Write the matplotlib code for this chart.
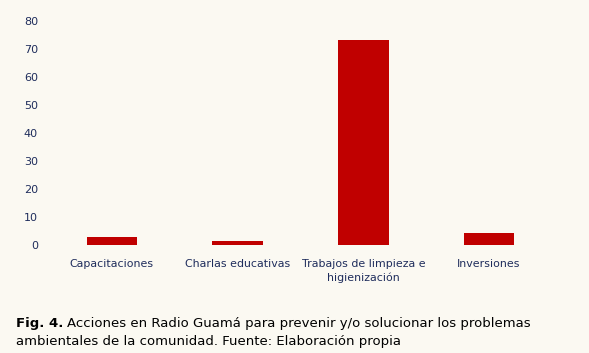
import matplotlib.pyplot as plt

# datos
categorias = ["Capacitaciones", "Charlas educativas", "Trabajos de limpieza e\nhigienización", "Inversiones"]
valores = [2.7, 1.4, 73.2, 4.3]
ticks_y = [0, 10, 20, 30, 40, 50, 60, 70, 80]

fondo = "#FBF9F2"
azul = "#1F2D5C"

fig = plt.figure(figsize=(5.89, 3.53), dpi=100, facecolor=fondo)
ax = fig.add_axes([49 / 589, 1 - 245 / 353, (552 - 49) / 589, (245 - 21) / 353])
ax.set_facecolor(fondo)

x = range(len(categorias))
ax.bar(x, valores, width=0.4, color="#C00000")

ax.set_xlim(-0.5, len(categorias) - 0.5)
ax.set_ylim(0, 80)
ax.set_yticks(ticks_y)
ax.set_yticklabels([str(t) for t in ticks_y], fontsize=8, color=azul)
ax.set_xticks(list(x))
ax.set_xticklabels(categorias, fontsize=7.9, color=azul, linespacing=1.45)
ax.tick_params(length=0)
ax.tick_params(axis="y", pad=8)
ax.tick_params(axis="x", pad=10)
for s in ax.spines.values():
    s.set_visible(False)

# pie de figura
t1 = fig.text(16 / 589, 1 - 324 / 353, "Fig. 4.", fontsize=9.5, fontweight="bold",
              color="black", va="center")
fig.canvas.draw()
bb = t1.get_window_extent()
fig.text(bb.x1 / 589 + 4 / 589, 1 - 324 / 353,
         "Acciones en Radio Guamá para prevenir y/o solucionar los problemas",
         fontsize=9.5, color="black", va="center")
fig.text(16 / 589, 1 - 341 / 353, "ambientales de la comunidad. Fuente: Elaboración propia",
         fontsize=9.5, color="black", va="center")

fig.savefig("out.png", dpi=100, facecolor=fondo)
